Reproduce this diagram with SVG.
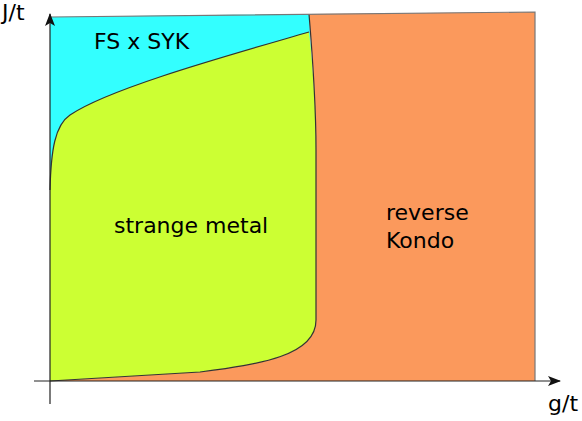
<svg xmlns="http://www.w3.org/2000/svg" width="582" height="421" viewBox="0 0 582 421">
<style>
.lbl{font-family:"DejaVu Sans",sans-serif;font-size:22px;fill:#000}
.bd{fill:none;stroke:#333;stroke-width:1.2}
.ax{fill:none;stroke:#222;stroke-width:1.2}
</style>
<defs>
<marker id="arr" markerWidth="14" markerHeight="10" refX="12" refY="5" orient="auto" markerUnits="userSpaceOnUse">
<path d="M0,0 L13,5 L0,10 L3,5 Z" fill="#111"/>
</marker>
</defs>
<g id="fsxsyk">
<path d="M50,17 L309,14 L316,150 L316,320 L50,381 Z" fill="#33ffff"/>
</g>
<g id="reverse-kondo">
<path d="M309,14 L535,12 L535,381 L50,381 L200,372 C260,364 316,356 316,320 L316,150 C316,100 312,50 309,14 Z" fill="#fb995c"/>
</g>
<g id="strange-metal">
<path d="M50,381 L200,372 C260,364 316,356 316,320 L316,150 C316,100 312,60 309,32 C230,55 110,88 70,115 C55,125 51,150 50,190 Z" fill="#ccff33"/>
</g>
<g id="connectors">
<path class="bd" d="M50,381 L200,372 C260,364 316,356 316,320 L316,150 C316,100 312,50 309,14"/>
<path class="bd" d="M309,32 C230,55 110,88 70,115 C55,125 51,150 50,190"/>
<path d="M50,17 L535,12 L535,381" fill="none" stroke="#777" stroke-width="1.2"/>
<path class="ax" d="M34,381 L560,381" marker-end="url(#arr)"/>
<path class="ax" d="M50,404 L50,14" marker-end="url(#arr)"/>
</g>
<g id="labels">
<text class="lbl" x="2" y="20">J/t</text>
<text class="lbl" x="94" y="49">FS x SYK</text>
<text class="lbl" x="114" y="233">strange metal</text>
<text class="lbl" x="386" y="220">reverse</text>
<text class="lbl" x="386" y="248">Kondo</text>
<text class="lbl" x="548" y="411">g/t</text>
</g>
</svg>
